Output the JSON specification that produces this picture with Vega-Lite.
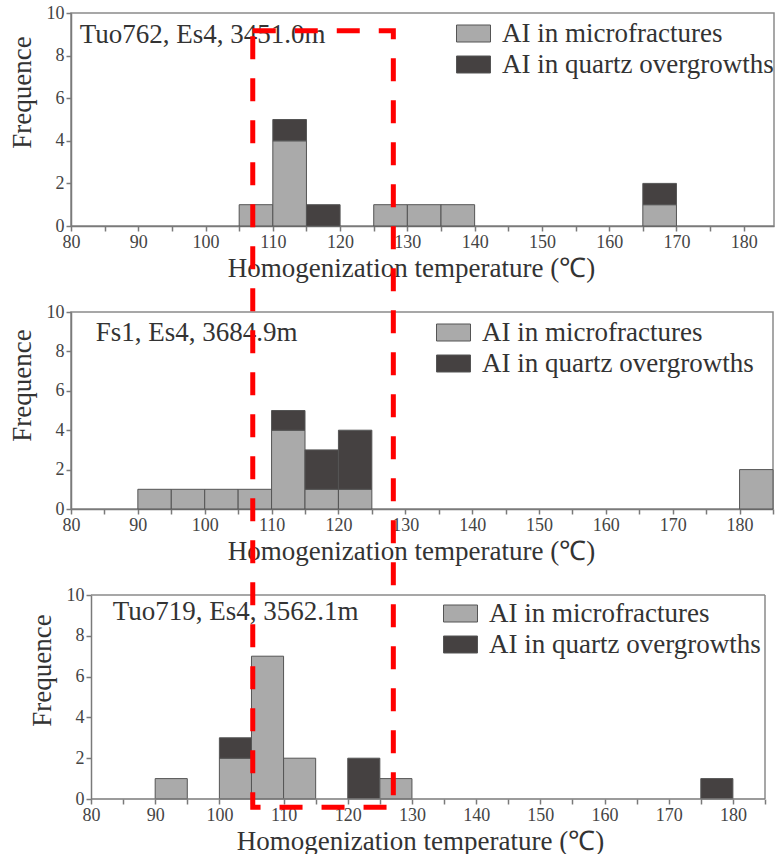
{
  "$schema": "https://vega.github.io/schema/vega-lite/v6.json",
  "background": "white",
  "padding": {"left": 7, "top": 3, "right": 0, "bottom": 0},
  "bounds": "flush",
  "spacing": 86,
  "datasets": {
    "tuo762": [
      {"bin_start": 105, "bin_end": 110, "type": "AI in microfractures", "count": 1},
      {"bin_start": 110, "bin_end": 115, "type": "AI in microfractures", "count": 4},
      {"bin_start": 110, "bin_end": 115, "type": "AI in quartz overgrowths", "count": 1},
      {"bin_start": 115, "bin_end": 120, "type": "AI in quartz overgrowths", "count": 1},
      {"bin_start": 125, "bin_end": 130, "type": "AI in microfractures", "count": 1},
      {"bin_start": 130, "bin_end": 135, "type": "AI in microfractures", "count": 1},
      {"bin_start": 135, "bin_end": 140, "type": "AI in microfractures", "count": 1},
      {"bin_start": 165, "bin_end": 170, "type": "AI in microfractures", "count": 1},
      {"bin_start": 165, "bin_end": 170, "type": "AI in quartz overgrowths", "count": 1}
    ],
    "fs1": [
      {"bin_start": 90, "bin_end": 95, "type": "AI in microfractures", "count": 1},
      {"bin_start": 95, "bin_end": 100, "type": "AI in microfractures", "count": 1},
      {"bin_start": 100, "bin_end": 105, "type": "AI in microfractures", "count": 1},
      {"bin_start": 105, "bin_end": 110, "type": "AI in microfractures", "count": 1},
      {"bin_start": 110, "bin_end": 115, "type": "AI in microfractures", "count": 4},
      {"bin_start": 110, "bin_end": 115, "type": "AI in quartz overgrowths", "count": 1},
      {"bin_start": 115, "bin_end": 120, "type": "AI in microfractures", "count": 1},
      {"bin_start": 115, "bin_end": 120, "type": "AI in quartz overgrowths", "count": 2},
      {"bin_start": 120, "bin_end": 125, "type": "AI in microfractures", "count": 1},
      {"bin_start": 120, "bin_end": 125, "type": "AI in quartz overgrowths", "count": 3},
      {"bin_start": 180, "bin_end": 185, "type": "AI in microfractures", "count": 2}
    ],
    "tuo719": [
      {"bin_start": 90, "bin_end": 95, "type": "AI in microfractures", "count": 1},
      {"bin_start": 100, "bin_end": 105, "type": "AI in microfractures", "count": 2},
      {"bin_start": 100, "bin_end": 105, "type": "AI in quartz overgrowths", "count": 1},
      {"bin_start": 105, "bin_end": 110, "type": "AI in microfractures", "count": 7},
      {"bin_start": 110, "bin_end": 115, "type": "AI in microfractures", "count": 2},
      {"bin_start": 120, "bin_end": 125, "type": "AI in quartz overgrowths", "count": 2},
      {"bin_start": 125, "bin_end": 130, "type": "AI in microfractures", "count": 1},
      {"bin_start": 175, "bin_end": 180, "type": "AI in quartz overgrowths", "count": 1}
    ]
  },
  "config": {
    "font": "Liberation Serif",
    "view": {"stroke": "#8a8a8a", "strokeWidth": 1.5},
    "axis": {
      "labelFont": "Liberation Serif", "labelFontSize": 18, "labelColor": "#444",
      "titleFont": "Liberation Serif", "titleFontSize": 27, "titleFontWeight": "normal", "titleColor": "#333",
      "domainColor": "#7a7a7a", "domainWidth": 1.5, "tickColor": "#7a7a7a", "tickWidth": 1.5, "tickSize": 5,
      "grid": false, "labelPadding": 2, "labelOverlap": false
    },
    "axisX": {"titlePadding": 4, "labelFlush": false, "tickCount": 40},
    "axisY": {"titlePadding": 10, "tickCount": 12},
    "legend": {
      "labelFont": "Liberation Serif", "labelFontSize": 27, "labelColor": "#333", "labelLimit": 0,
      "symbolType": "M-2,-1H2V1H-2Z", "symbolSize": 289, "symbolStrokeColor": "#555", "symbolStrokeWidth": 1,
      "labelOffset": 15, "rowPadding": 3, "padding": 0, "orient": "none"
    }
  },
  "resolve": {
    "scale": {"x": "independent", "y": "independent", "color": "independent"},
    "legend": {"color": "independent"}
  },
  "vconcat": [
    {
      "width": 703, "height": 213,
      "layer": [
        {
          "data": {"name": "tuo762"},
          "transform": [{"stack": "count", "groupby": ["bin_start"], "sort": [{"field": "type", "order": "ascending"}], "as": ["y0", "y1"]}],
          "mark": {"type": "bar", "stroke": "#555", "strokeWidth": 1},
          "encoding": {
            "x": {"field": "bin_start", "type": "quantitative",
              "scale": {"domain": [80, 184.5], "nice": false, "zero": false},
              "axis": {"title": "Homogenization temperature (℃)", "values": [80,85,90,95,100,105,110,115,120,125,130,135,140,145,150,155,160,165,170,175,180],
                "labelExpr": "datum.value % 10 === 0 ? datum.label : ''", "titleX": 340, "labelOverlap": false, "tickCount": 40}},
            "x2": {"field": "bin_end"},
            "y": {"field": "y0", "type": "quantitative",
              "scale": {"domain": [0, 10], "nice": false},
              "axis": {"title": "Frequence", "values": [0,2,4,6,8,10], "titleY": 79, "labelOverlap": false, "tickCount": 12}},
            "y2": {"field": "y1"},
            "color": {"field": "type", "type": "nominal",
              "scale": {"domain": ["AI in microfractures", "AI in quartz overgrowths"], "range": ["#aaaaaa", "#454141"]},
              "legend": {"title": null, "orient": "none", "legendX": 389, "legendY": 7}}
          }
        },
        {
          "data": {"values": [{"label": "Tuo762, Es4, 3451.0m"}]},
          "mark": {"type": "text", "align": "left", "baseline": "middle", "font": "Liberation Serif", "fontSize": 27, "color": "#333"},
          "encoding": {"x": {"datum": 81.3}, "y": {"datum": 8.98}, "text": {"field": "label"}}
        }
      ]
    },
    {
      "width": 702, "height": 197,
      "layer": [
        {
          "data": {"name": "fs1"},
          "transform": [{"stack": "count", "groupby": ["bin_start"], "sort": [{"field": "type", "order": "ascending"}], "as": ["y0", "y1"]}],
          "mark": {"type": "bar", "stroke": "#555", "strokeWidth": 1},
          "encoding": {
            "x": {"field": "bin_start", "type": "quantitative",
              "scale": {"domain": [80, 185], "nice": false, "zero": false},
              "axis": {"title": "Homogenization temperature (℃)", "values": [80,85,90,95,100,105,110,115,120,125,130,135,140,145,150,155,160,165,170,175,180,185],
                "labelExpr": "datum.value % 10 === 0 ? datum.label : ''", "titleX": 340, "labelOverlap": false, "tickCount": 40}},
            "x2": {"field": "bin_end"},
            "y": {"field": "y0", "type": "quantitative",
              "scale": {"domain": [0, 10], "nice": false},
              "axis": {"title": "Frequence", "values": [0,2,4,6,8,10], "titleY": 73, "labelOverlap": false, "tickCount": 12}},
            "y2": {"field": "y1"},
            "color": {"field": "type", "type": "nominal",
              "scale": {"domain": ["AI in microfractures", "AI in quartz overgrowths"], "range": ["#aaaaaa", "#454141"]},
              "legend": {"title": null, "orient": "none", "legendX": 369, "legendY": 7}}
          }
        },
        {
          "data": {"values": [{"label": "Fs1, Es4, 3684.9m"}]},
          "mark": {"type": "text", "align": "left", "baseline": "middle", "font": "Liberation Serif", "fontSize": 27, "color": "#333"},
          "encoding": {"x": {"datum": 83.7}, "y": {"datum": 8.95}, "text": {"field": "label"}}
        }
      ]
    },
    {
      "width": 694, "height": 204,
      "view": {"stroke": null},
      "layer": [
        {
          "data": {"name": "tuo719"},
          "transform": [{"stack": "count", "groupby": ["bin_start"], "sort": [{"field": "type", "order": "ascending"}], "as": ["y0", "y1"]}],
          "mark": {"type": "bar", "stroke": "#555", "strokeWidth": 1},
          "encoding": {
            "x": {"field": "bin_start", "type": "quantitative",
              "scale": {"domain": [76.885, 185], "nice": false, "zero": false},
              "axis": {"title": "Homogenization temperature (℃)", "domain": false, "values": [80,85,90,95,100,105,110,115,120,125,130,135,140,145,150,155,160,165,170,175,180,185],
                "labelExpr": "datum.value % 10 === 0 ? datum.label : ''", "titleX": 349, "labelOverlap": false, "tickCount": 40}},
            "x2": {"field": "bin_end"},
            "y": {"field": "y0", "type": "quantitative",
              "scale": {"domain": [0, 10], "nice": false},
              "axis": {"title": "Frequence", "values": [0,2,4,6,8,10], "titleY": 75, "offset": -20, "labelOverlap": false, "tickCount": 12}},
            "y2": {"field": "y1"},
            "color": {"field": "type", "type": "nominal",
              "scale": {"domain": ["AI in microfractures", "AI in quartz overgrowths"], "range": ["#aaaaaa", "#454141"]},
              "legend": {"title": null, "orient": "none", "legendX": 376, "legendY": 5}}
          }
        },
        {
          "data": {"values": [{"part": "frame"}]},
          "mark": {"type": "rule", "color": "#8a8a8a", "strokeWidth": 1.5},
          "encoding": {"x": {"datum": 80}, "x2": {"datum": 185}, "y": {"datum": 10}}
        },
        {
          "data": {"values": [{"part": "frame"}]},
          "mark": {"type": "rule", "color": "#8a8a8a", "strokeWidth": 1.5},
          "encoding": {"x": {"datum": 185}, "y": {"datum": 0}, "y2": {"datum": 10}}
        },
        {
          "data": {"values": [{"part": "axis"}]},
          "mark": {"type": "rule", "color": "#7a7a7a", "strokeWidth": 1.5},
          "encoding": {"x": {"datum": 80}, "x2": {"datum": 185}, "y": {"datum": 0}}
        },
        {
          "data": {"values": [{"label": "Tuo719, Es4, 3562.1m"}]},
          "mark": {"type": "text", "align": "left", "baseline": "middle", "font": "Liberation Serif", "fontSize": 27, "color": "#333"},
          "encoding": {"x": {"datum": 83.4}, "y": {"datum": 9.17}, "text": {"field": "label"}}
        },
        {
          "data": {"values": [{"note": "highlighted range"}]},
          "mark": {"type": "rect", "filled": false, "stroke": "#ff0000", "strokeWidth": 5, "strokeDash": [23, 19], "clip": false},
          "encoding": {"x": {"datum": 105.2}, "x2": {"datum": 127.1}, "y": {"datum": 37.66}, "y2": {"datum": -0.41}}
        }
      ]
    }
  ]
}
